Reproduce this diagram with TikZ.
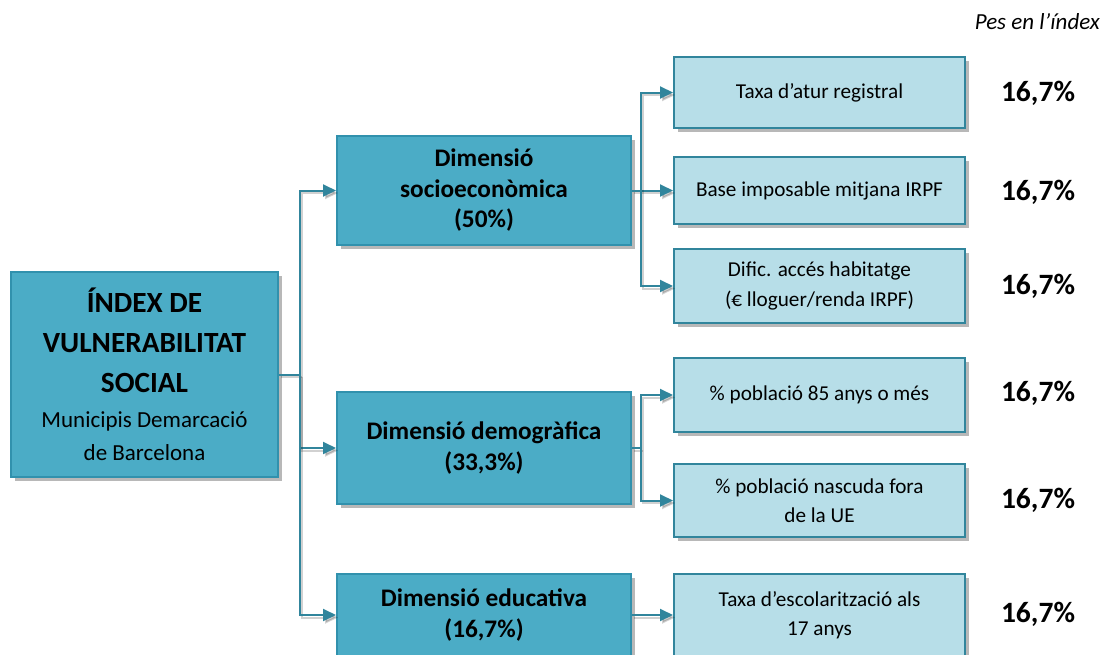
\documentclass[tikz,border=0pt]{standalone}
\usepackage{fontspec}
\setmainfont{Carlito}
\usetikzlibrary{arrows.meta,shadows}
\definecolor{darkfill}{HTML}{4BACC6}
\definecolor{darkedge}{HTML}{3191AD}
\definecolor{lightfill}{HTML}{B7DEE8}
\definecolor{lightedge}{HTML}{31859C}
\definecolor{linecol}{HTML}{31859C}
\begin{document}
\begin{tikzpicture}[x=1pt,y=-1pt,
  boxshadow/.style={drop shadow={shadow xshift=3.5pt,shadow yshift=-4pt,fill=black,opacity=0.28}},
  darkbox/.style={draw=darkedge,fill=darkfill,line width=2pt,boxshadow,align=center,inner sep=2pt},
  lightbox/.style={draw=lightedge,fill=lightfill,line width=2pt,boxshadow,align=center,inner sep=2pt,
    font=\fontsize{21.2}{29.5}\selectfont},
  dimtext/.style={font=\bfseries\fontsize{25.3}{30.5}\selectfont},
  pcttext/.style={font=\bfseries\fontsize{29.5}{33}\selectfont,inner sep=0pt},
  conn/.style={draw=linecol,line width=2pt,
    preaction={draw=black,opacity=0.18,line width=2pt,transform canvas={shift={(2pt,-2.5pt)}}}},
  arr/.style={conn,-{Triangle[length=13pt,width=12pt]}}
]
\useasboundingbox (0,0) rectangle (1104,654);
\clip (0,0) rectangle (1104,654);

% title
\node[anchor=east,inner sep=0pt,font=\itshape\fontsize{23}{26}\selectfont] (title) at (1100,22) {Pes en l’índex};

% main
\node[darkbox,minimum width=267pt,minimum height=205pt,font=\fontsize{23}{33}\selectfont] (main) at (144.5,374.5)
 {{\bfseries\fontsize{29.3}{33}\selectfont ÍNDEX DE}\\[7pt]{\bfseries\fontsize{29.3}{33}\selectfont VULNERABILITAT}\\[7pt]{\bfseries\fontsize{29.3}{33}\selectfont SOCIAL}\\[2pt]Municipis Demarcació\\de Barcelona};

% dimensions
\node[darkbox,dimtext,minimum width=294pt,minimum height=109pt] (dim1) at (484,190.5) {Dimensió\\socioeconòmica\\(50\%)};
\node[darkbox,dimtext,minimum width=294pt,minimum height=112pt] (dim2) at (484,448) {Dimensió demogràfica\\(33,3\%)};
\node[darkbox,dimtext,minimum width=294pt,minimum height=82pt] (dim3) at (484,615) {Dimensió educativa\\(16,7\%)};

% indicators
\node[lightbox,minimum width=291pt,minimum height=71pt] (c1) at (819.5,92.5) {Taxa d’atur registral};
\node[lightbox,minimum width=291pt,minimum height=67pt] (c2) at (819.5,190.5) {Base imposable mitjana IRPF};
\node[lightbox,minimum width=291pt,minimum height=74pt] (c3) at (819.5,286) {Dific. accés habitatge\\(€ lloguer/renda IRPF)};
\node[lightbox,minimum width=291pt,minimum height=74pt] (c4) at (819.5,395) {\% població 85 anys o més};
\node[lightbox,minimum width=291pt,minimum height=73pt] (c5) at (819.5,500.5) {\% població nascuda fora\\de la UE};
\node[lightbox,minimum width=291pt,minimum height=82pt] (c6) at (819.5,615) {Taxa d’escolarització als\\17 anys};

% weights
\node[pcttext] (p1) at (1038,93) {16,7\%};
\node[pcttext] (p2) at (1038,192) {16,7\%};
\node[pcttext] (p3) at (1038,286) {16,7\%};
\node[pcttext] (p4) at (1038,393) {16,7\%};
\node[pcttext] (p5) at (1038,500) {16,7\%};
\node[pcttext] (p6) at (1038,614) {16,7\%};

% connectors
\coordinate (j1) at (300,374.5);
\coordinate (j2) at (641,190.5);
\coordinate (j3) at (641,448);
\draw[conn] (main.east) -- (j1);
\draw[arr] (j1) |- (dim1.west);
\draw[arr] (j1) |- (dim2.west);
\draw[arr] (j1) |- (dim3.west);

\draw[arr] (dim1.east) -- (c2.west);
\draw[arr] (j2) |- (c1.west);
\draw[arr] (j2) |- (c3.west);

\draw[conn] (dim2.east) -- (j3);
\draw[arr] (j3) |- (c4.west);
\draw[arr] (j3) |- (c5.west);

\draw[arr] (dim3.east) -- (c6.west);
\end{tikzpicture}
\end{document}
